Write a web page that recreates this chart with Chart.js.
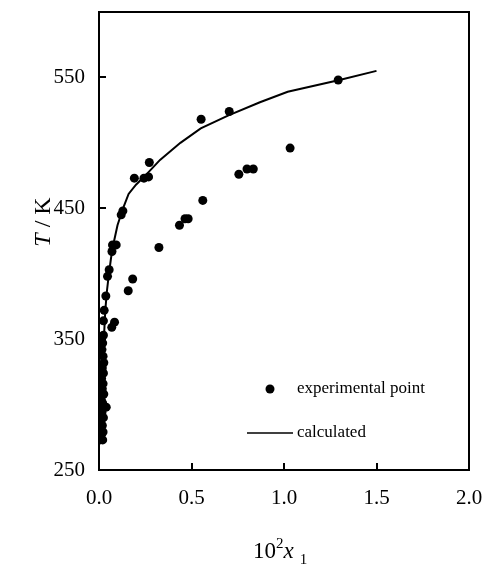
<!DOCTYPE html>
<html>
<head>
<meta charset="utf-8">
<script src="https://cdn.jsdelivr.net/npm/chart.js@4"></script>
<style>
  html, body { margin: 0; padding: 0; background: #fff; }
  #wrap { width: 483px; height: 566px; position: relative; }
</style>
</head>
<body>
<div id="wrap"><canvas id="solubilityChart"></canvas></div>
<script>
// solubility of solute 1: mole fraction (x 10^2) against temperature
const expX = [
    0.005, 0.020, 0.010, 0.002, 0.022, 0.018, 0.010, 0.024, 0.016, 0.004,
    0.039, 0.020, 0.012, 0.026, 0.018, 0.022, 0.014, 0.024, 0.018, 0.026,
    0.022, 0.016, 0.020, 0.024, 0.069, 0.084, 0.024, 0.028, 0.037, 0.158,
    0.182, 0.046, 0.055, 0.070, 0.073, 0.093, 0.324, 0.120, 0.129, 0.435,
    0.465, 0.482, 0.561, 0.191, 0.243, 0.268, 0.756, 0.800, 0.834, 0.272,
    1.033, 0.552, 0.704, 1.293
];
const expT = [
    273, 273, 276, 283, 279, 284, 287, 290, 294, 298,
    298, 301, 304, 308, 312, 316, 320, 324, 328, 332,
    337, 342, 347, 353, 359, 363, 364, 372, 383, 387,
    396, 398, 403, 417, 422, 422, 420, 445, 448, 437,
    442, 442, 456, 473, 473, 474, 476, 480, 480, 485,
    496, 518, 524, 548
];

const calcX = [0.009, 0.013, 0.017, 0.022, 0.028, 0.034, 0.043, 0.052, 0.065, 0.08, 0.1, 0.13,
               0.16, 0.2, 0.25, 0.33, 0.44, 0.55, 0.7, 0.87, 1.02, 1.3, 1.5];
const calcT = [273, 295, 315, 335, 355, 372, 387, 398, 412, 424, 437, 450,
               461, 468, 475, 487, 500, 511, 521, 531, 539, 548, 555];

const xTicks = [0, 0.5, 1.0, 1.5, 2.0];
const yTicks = [250, 350, 450, 550];

const legendLabels = ['experimental point', 'calculated'];

const SERIF = "'Liberation Serif', 'DejaVu Serif', serif";

// frame, inward ticks, axis titles and the in-plot legend
const decor = {
    id: 'decor',
    afterDraw(chart) {
        const { ctx, chartArea: a, scales: { x, y } } = chart;
        ctx.save();
        ctx.strokeStyle = '#000';
        ctx.lineWidth = 2;
        ctx.strokeRect(a.left, a.top, a.right - a.left, a.bottom - a.top);

        ctx.beginPath();
        xTicks.forEach(v => {
            const px = Math.round(x.getPixelForValue(v));
            ctx.moveTo(px, a.bottom);
            ctx.lineTo(px, a.bottom - 7);
        });
        yTicks.forEach(v => {
            const py = Math.round(y.getPixelForValue(v));
            ctx.moveTo(a.left, py);
            ctx.lineTo(a.left + 7, py);
        });
        ctx.stroke();

        ctx.fillStyle = '#000';

        // y title: T / K
        ctx.save();
        ctx.translate(50, 222);
        ctx.rotate(-Math.PI / 2);
        ctx.textBaseline = 'alphabetic';
        ctx.font = 'italic 24px ' + SERIF;
        const tW = ctx.measureText('T').width;
        ctx.font = '24px ' + SERIF;
        const restW = ctx.measureText(' / K').width;
        let sx = -(tW + restW) / 2;
        ctx.font = 'italic 24px ' + SERIF;
        ctx.fillText('T', sx, 0);
        ctx.font = '24px ' + SERIF;
        ctx.fillText(' / K', sx + tW, 0);
        ctx.restore();

        // x title: 10^2 x_1
        ctx.textBaseline = 'alphabetic';
        let cx = 253;
        const base = 558;
        ctx.font = '23px ' + SERIF;
        ctx.fillText('10', cx, base);
        cx += ctx.measureText('10').width;
        ctx.font = '15px ' + SERIF;
        ctx.fillText('2', cx, base - 10);
        cx += ctx.measureText('2').width;
        ctx.font = 'italic 23px ' + SERIF;
        ctx.fillText('x', cx, base);
        cx += ctx.measureText('x').width + 6;
        ctx.font = '15px ' + SERIF;
        ctx.fillText('1', cx, base + 6);

        // legend
        ctx.font = '17px ' + SERIF;
        ctx.textBaseline = 'middle';
        ctx.beginPath();
        ctx.arc(270, 389, 4.5, 0, Math.PI * 2);
        ctx.fill();
        ctx.fillText(legendLabels[0], 297, 389);
        ctx.lineWidth = 1.5;
        ctx.beginPath();
        ctx.moveTo(247, 433);
        ctx.lineTo(293, 433);
        ctx.stroke();
        ctx.fillText(legendLabels[1], 297, 433);

        ctx.restore();
    }
};

new Chart(document.getElementById('solubilityChart'), {
    type: 'scatter',
    data: {
        datasets: [
            {
                label: legendLabels[0],
                data: expX.map((v, i) => ({ x: v, y: expT[i] })),
                backgroundColor: '#000',
                borderColor: '#000',
                pointRadius: 4.5,
                pointHoverRadius: 4.5,
                borderWidth: 0,
            },
            {
                type: 'line',
                label: legendLabels[1],
                data: calcX.map((v, i) => ({ x: v, y: calcT[i] })),
                borderColor: '#000',
                borderWidth: 2,
                pointRadius: 0,
                tension: 0,
                fill: false,
            }
        ]
    },
    options: {
        responsive: true,
        maintainAspectRatio: false,
        animation: false,
        layout: { padding: { top: 12, right: 14, left: 0, bottom: 0 } },
        plugins: {
            legend: { display: false },
            tooltip: { enabled: false }
        },
        scales: {
            x: {
                type: 'linear',
                min: 0,
                max: 2.0,
                grid: { display: false, drawTicks: false },
                border: { display: false },
                afterBuildTicks: s => { s.ticks = xTicks.map(v => ({ value: v })); },
                afterFit: s => { s.height = 96; s.paddingLeft = 0; s.paddingRight = 0; },
                ticks: {
                    color: '#000',
                    padding: 16,
                    maxRotation: 0,
                    font: { size: 21, family: SERIF },
                    callback: v => v.toFixed(1)
                }
            },
            y: {
                type: 'linear',
                min: 250,
                max: 600,
                grid: { display: false, drawTicks: false },
                border: { display: false },
                afterBuildTicks: s => { s.ticks = yTicks.map(v => ({ value: v })); },
                afterFit: s => { s.width = 99; s.paddingTop = 0; s.paddingBottom = 0; },
                ticks: {
                    color: '#000',
                    padding: 14,
                    font: { size: 21, family: SERIF },
                    callback: v => String(v)
                }
            }
        }
    },
    plugins: [decor]
});
</script>
</body>
</html>
